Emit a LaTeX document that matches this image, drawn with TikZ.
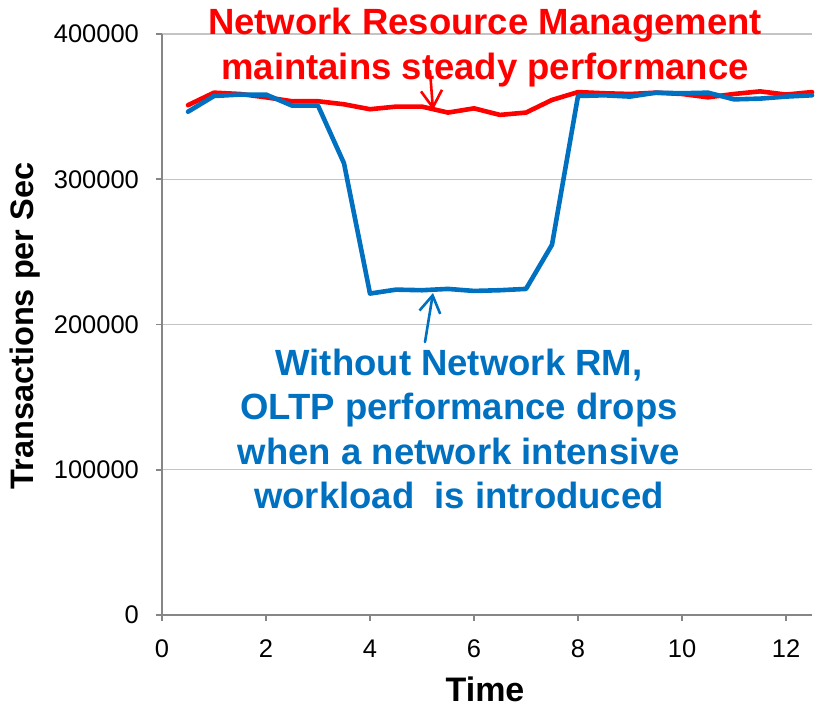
\documentclass[tikz,border=0pt]{standalone}
\usepackage{fontspec}
\setmainfont{Liberation Sans}
\usetikzlibrary{arrows.meta}
\definecolor{cred}{RGB}{255,0,0}
\definecolor{cblue}{RGB}{0,112,192}
\definecolor{axisgray}{RGB}{134,134,134}
\definecolor{gridgray}{RGB}{196,196,196}
\begin{document}
\begin{tikzpicture}[x=1pt,y=1pt,
  ticklabel/.style={font=\fontsize{25.5}{30}\selectfont, inner sep=0pt},
  axistitle/.style={font=\fontsize{34}{40}\selectfont\bfseries, inner sep=0pt},
  callout/.style={font=\fontsize{36.5}{44.5}\selectfont\bfseries, align=center, inner sep=0pt},
  dataline/.style={line width=4.6pt, line join=round, line cap=round},
  axisline/.style={axisgray, line width=1.6pt},
  gridline/.style={gridgray, line width=1.3pt},
  pointer/.style={line width=2.6pt, line cap=round, -{Straight Barb[length=17pt,width=21pt]}}]
\useasboundingbox (0,0) rectangle (829,707);
\begin{scope}[shift={(162pt,92pt)}, x=52pt, y=1.4525pt]
  % grid
  \foreach \v in {100,200,300,400} \draw[gridline] (0,\v) -- (12.5,\v);
  % axes
  \draw[axisline] (0,0) -- (0,400);
  \draw[axisline] (0,0) -- (12.5,0);
  \foreach \v in {0,100,200,300,400} \draw[axisline] (-0.12,\v) -- (0,\v);
  \foreach \t in {0,2,4,6,8,10,12} \draw[axisline] (\t,0) -- (\t,-4.13);
  % y tick labels
  \foreach \v/\lab in {0/0,100/100000,200/200000,300/300000,400/400000}
    \node[ticklabel, anchor=east] (yl\v) at (-0.44,\v) {\lab};
  % x tick labels
  \foreach \t in {0,2,4,6,8,10,12}
    \node[ticklabel, anchor=base] (xl\t) at (\t,-29.2) {\t};
  % data: red (with network RM)
  \draw[dataline, cred] plot coordinates {
    (0.5,351) (1,359.6) (1.5,358.7) (2,356.4) (2.5,353.7) (3,353.7)
    (3.5,351.6) (4,348.2) (4.5,350) (5,350) (5.5,345.9) (6,348.8)
    (6.5,344.3) (7,345.9) (7.5,354.6) (8,360) (8.5,359.2) (9,358.7)
    (9.5,359.6) (10,358.7) (10.5,356.4) (11,358.7) (11.5,360.5)
    (12,358.3) (12.5,360)};
  % data: blue (without network RM)
  \draw[dataline, cblue] plot coordinates {
    (0.5,346.5) (1,357.3) (1.5,358.3) (2,358.3) (2.5,350.7) (3,350.7)
    (3.5,311) (4,221.3) (4.5,224) (5,223.6) (5.5,224.5) (6,223.1)
    (6.5,223.6) (7,224.5) (7.5,254.9) (8,357.3) (8.5,357.8) (9,356.9)
    (9.5,359.6) (10,359.2) (10.5,359.6) (11,355) (11.5,355.5)
    (12,356.9) (12.5,357.8)};
\end{scope}
% axis titles
\node[axistitle, anchor=base] (xtitle) at (485,6) {Time};
\node[axistitle, font=\fontsize{32.5}{38}\selectfont\bfseries, rotate=90, anchor=base] (ytitle) at (33,381) {Transactions per Sec};
% callouts
\node[callout, text=cred, anchor=north] (redtext) at (485,699)
  {Network Resource Management\\maintains steady performance};
\node[callout, text=cblue, anchor=north] (bluetext) at (459,358.5)
  {Without Network RM,\\OLTP performance drops\\when a network intensive\\workload\ \ is introduced};
% pointers
\coordinate (redstart) at (430,636);
\coordinate (redtip) at (433,597);
\coordinate (bluestart) at (425,365);
\coordinate (bluetip) at (433,414);
\draw[pointer, cred] (redstart) -- (redtip);
\draw[pointer, cblue] (bluestart) -- (bluetip);
\end{tikzpicture}
\end{document}
